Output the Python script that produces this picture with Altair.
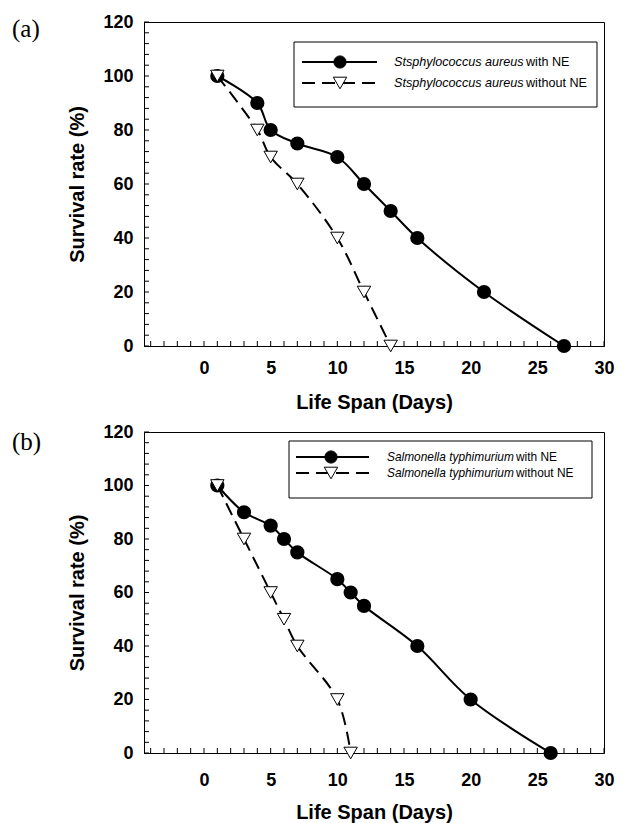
import altair as alt
import pandas as pd

# ---------------- data ----------------
# Panel (a): Staphylococcus aureus
a_with_days = [1, 4, 5, 7, 10, 12, 14, 16, 21, 27]
a_with_surv = [100, 90, 80, 75, 70, 60, 50, 40, 20, 0]
a_without_days = [1, 4, 5, 7, 10, 12, 14]
a_without_surv = [100, 80, 70, 60, 40, 20, 0]

# Panel (b): Salmonella typhimurium
b_with_days = [1, 3, 5, 6, 7, 10, 11, 12, 16, 20, 26]
b_with_surv = [100, 90, 85, 80, 75, 65, 60, 55, 40, 20, 0]
b_without_days = [1, 3, 5, 6, 7, 10, 11]
b_without_surv = [100, 80, 60, 50, 40, 20, 0]

species_a = "Stsphylococcus aureus"
species_b = "Salmonella typhimurium"
suffix_with = "with NE"
suffix_without = "without NE"

x_label_values = [0, 5, 10, 15, 20, 25, 30]
y_label_values = [0, 20, 40, 60, 80, 100, 120]
x_domain = [-4.5, 30]
y_domain = [0, 120]

x_minor = list(range(-4, 31, 1))
y_minor = list(range(0, 121, 4))

FONT = "Liberation Sans"
W = 460
DASH = [13, 7]
CIRCLE_SIZE = 150
TRI_SIZE = 180


def panel(with_days, with_surv, without_days, without_surv, species, tag, height, lg):
    df_with = pd.DataFrame({"day": with_days, "surv": with_surv})
    df_without = pd.DataFrame({"day": without_days, "surv": without_surv})
    xs = alt.Scale(domain=x_domain, nice=False, zero=False)
    ys = alt.Scale(domain=y_domain, nice=False, zero=False)
    xaxis = alt.Axis(values=x_label_values, ticks=False, grid=False, domainColor="black",
                     labelFont=FONT, labelFontWeight="bold", labelFontSize=18, labelColor="black",
                     labelPadding=lg["lpad"], labelFlush=False, title="Life Span (Days)",
                     titleFont=FONT, titleFontWeight="bold", titleFontSize=20, titleColor="black",
                     titlePadding=lg["tpad"])
    yaxis = alt.Axis(values=y_label_values, ticks=False, grid=False, domainColor="black",
                     labelFont=FONT, labelFontWeight="bold", labelFontSize=18, labelColor="black",
                     labelPadding=11, labelFlush=False, title="Survival rate (%)",
                     titleFont=FONT, titleFontWeight="bold", titleFontSize=20, titleColor="black",
                     titlePadding=15)
    xenc = alt.X("day:Q", scale=xs, axis=xaxis)
    yenc = alt.Y("surv:Q", scale=ys, axis=yaxis)

    xt = pd.DataFrame({"day": x_minor})
    yt = pd.DataFrame({"surv": y_minor})
    x_ticks = alt.Chart(xt).mark_rule(color="black", strokeWidth=1).encode(
        x=xenc, y=alt.value(height), y2=alt.value(height - 5))
    y_ticks = alt.Chart(yt).mark_rule(color="black", strokeWidth=1).encode(
        y=yenc, x=alt.value(0), x2=alt.value(5))

    line_with = alt.Chart(df_with).mark_line(color="black", strokeWidth=2,
                                             interpolate="catmull-rom").encode(x=xenc, y=yenc)
    line_without = alt.Chart(df_without).mark_line(color="black", strokeWidth=2, strokeDash=DASH,
                                                   interpolate="catmull-rom").encode(x=xenc, y=yenc)
    pts_with = alt.Chart(df_with).mark_point(shape="circle", filled=True, fill="black", stroke="black",
                                             size=CIRCLE_SIZE, opacity=1).encode(x=xenc, y=yenc)
    pts_without = alt.Chart(df_without).mark_point(shape="triangle-down", filled=True, fill="white",
                                                   stroke="black", strokeWidth=1, size=TRI_SIZE,
                                                   opacity=1).encode(x=xenc, y=yenc)

    one = pd.DataFrame({"k": [0]})
    box = alt.Chart(one).mark_rect(fill="white", stroke="black", strokeWidth=1).encode(
        x=alt.value(lg["x0"]), x2=alt.value(lg["x1"]), y=alt.value(lg["y0"]), y2=alt.value(lg["y1"]))
    layers = [x_ticks, y_ticks, line_with, line_without, pts_with, pts_without, box]
    rows = [(lg["r1"], None, "circle", "black", CIRCLE_SIZE, suffix_with),
            (lg["r2"], DASH, "triangle-down", "white", TRI_SIZE, suffix_without)]
    for yy, dash, shape, fill, size, suffix in rows:
        rule_kwargs = dict(color="black", strokeWidth=2)
        if dash:
            rule_kwargs["strokeDash"] = dash
        layers.append(alt.Chart(one).mark_rule(**rule_kwargs).encode(
            x=alt.value(lg["sx0"]), x2=alt.value(lg["sx1"]), y=alt.value(yy)))
        layers.append(alt.Chart(one).mark_point(shape=shape, filled=True, fill=fill, stroke="black",
                                                strokeWidth=1, size=size, opacity=1).encode(
            x=alt.value(lg["mx"]), y=alt.value(yy)))
        layers.append(alt.Chart(one).mark_text(align="left", baseline="middle", font=FONT,
                                               fontStyle="italic", fontSize=lg["fs"], color="black").encode(
            x=alt.value(lg["tx"]), y=alt.value(yy), text=alt.value(species)))
        layers.append(alt.Chart(one).mark_text(align="left", baseline="middle", font=FONT,
                                               fontSize=lg["fs"], color="black").encode(
            x=alt.value(lg["tx2"]), y=alt.value(yy), text=alt.value(suffix)))
    layers.append(alt.Chart(one).mark_text(align="left", baseline="middle", font="Liberation Serif",
                                           fontSize=25, color="black").encode(
        x=alt.value(-132), y=alt.value(lg["tagy"]), text=alt.value(tag)))
    return alt.layer(*layers).properties(width=W, height=height)


lg_a = dict(x0=150, x1=453, y0=20, y1=85, r1=40, r2=61, sx0=158, sx1=233, mx=196,
            tx=250, tx2=382, tagy=7, fs=12.6, lpad=13, tpad=15)
lg_b = dict(x0=145, x1=448, y0=9, y1=66, r1=25, r2=41, sx0=152, sx1=225, mx=187,
            tx=243, tx2=372, tagy=10, fs=11.9, lpad=18, tpad=13)

top = panel(a_with_days, a_with_surv, a_without_days, a_without_surv, species_a, "(a)", 324, lg_a)
bottom = panel(b_with_days, b_with_surv, b_without_days, b_without_surv, species_b, "(b)", 321, lg_b)

chart = alt.vconcat(top, bottom, spacing=9).configure(
    padding={"left": 11, "top": 12, "right": 5, "bottom": 0}, background="white"
).configure_view(stroke="black", strokeWidth=1)

chart.save("out.html", embed_options={"renderer": "svg", "actions": False})
